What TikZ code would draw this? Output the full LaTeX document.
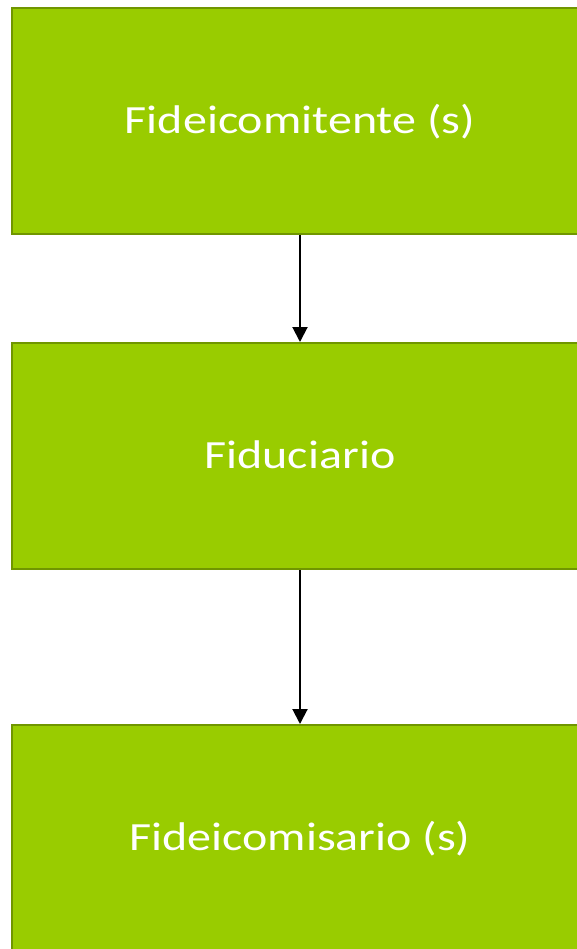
\documentclass[tikz,border=0pt]{standalone}
\usepackage{fontspec}
\newfontfamily\boxfont[FakeStretch=1.2]{Carlito}
\usetikzlibrary{arrows.meta}
\definecolor{boxgreen}{RGB}{153,204,0}
\definecolor{boxedge}{RGB}{112,150,0}
\tikzset{
  party/.style={draw=boxedge, line width=2.4pt, fill=boxgreen, text=white,
    minimum width=575.6pt, minimum height=225.6pt, inner sep=0pt,
    font=\boxfont\fontsize{40}{48}\selectfont, text height=25.8pt, text depth=0pt}
}
\begin{document}
\begin{tikzpicture}[x=1pt,y=-1pt]
      \useasboundingbox (0,0) rectangle (577,949);
      \draw
        (300,121) node[party] (fideicomitente){Fideicomitente (s)}
        (300,456) node[party] (fiduciario){Fiduciario}
        (300,838) node[party] (fideicomisario){Fideicomisario (s)};
      \begin{scope}[-{Triangle[width=15pt,length=15pt]}, line width=2pt]
        \draw (fideicomitente) to (fiduciario);
        \draw (fiduciario) to (fideicomisario);
      \end{scope}
    \end{tikzpicture}
\end{document}
